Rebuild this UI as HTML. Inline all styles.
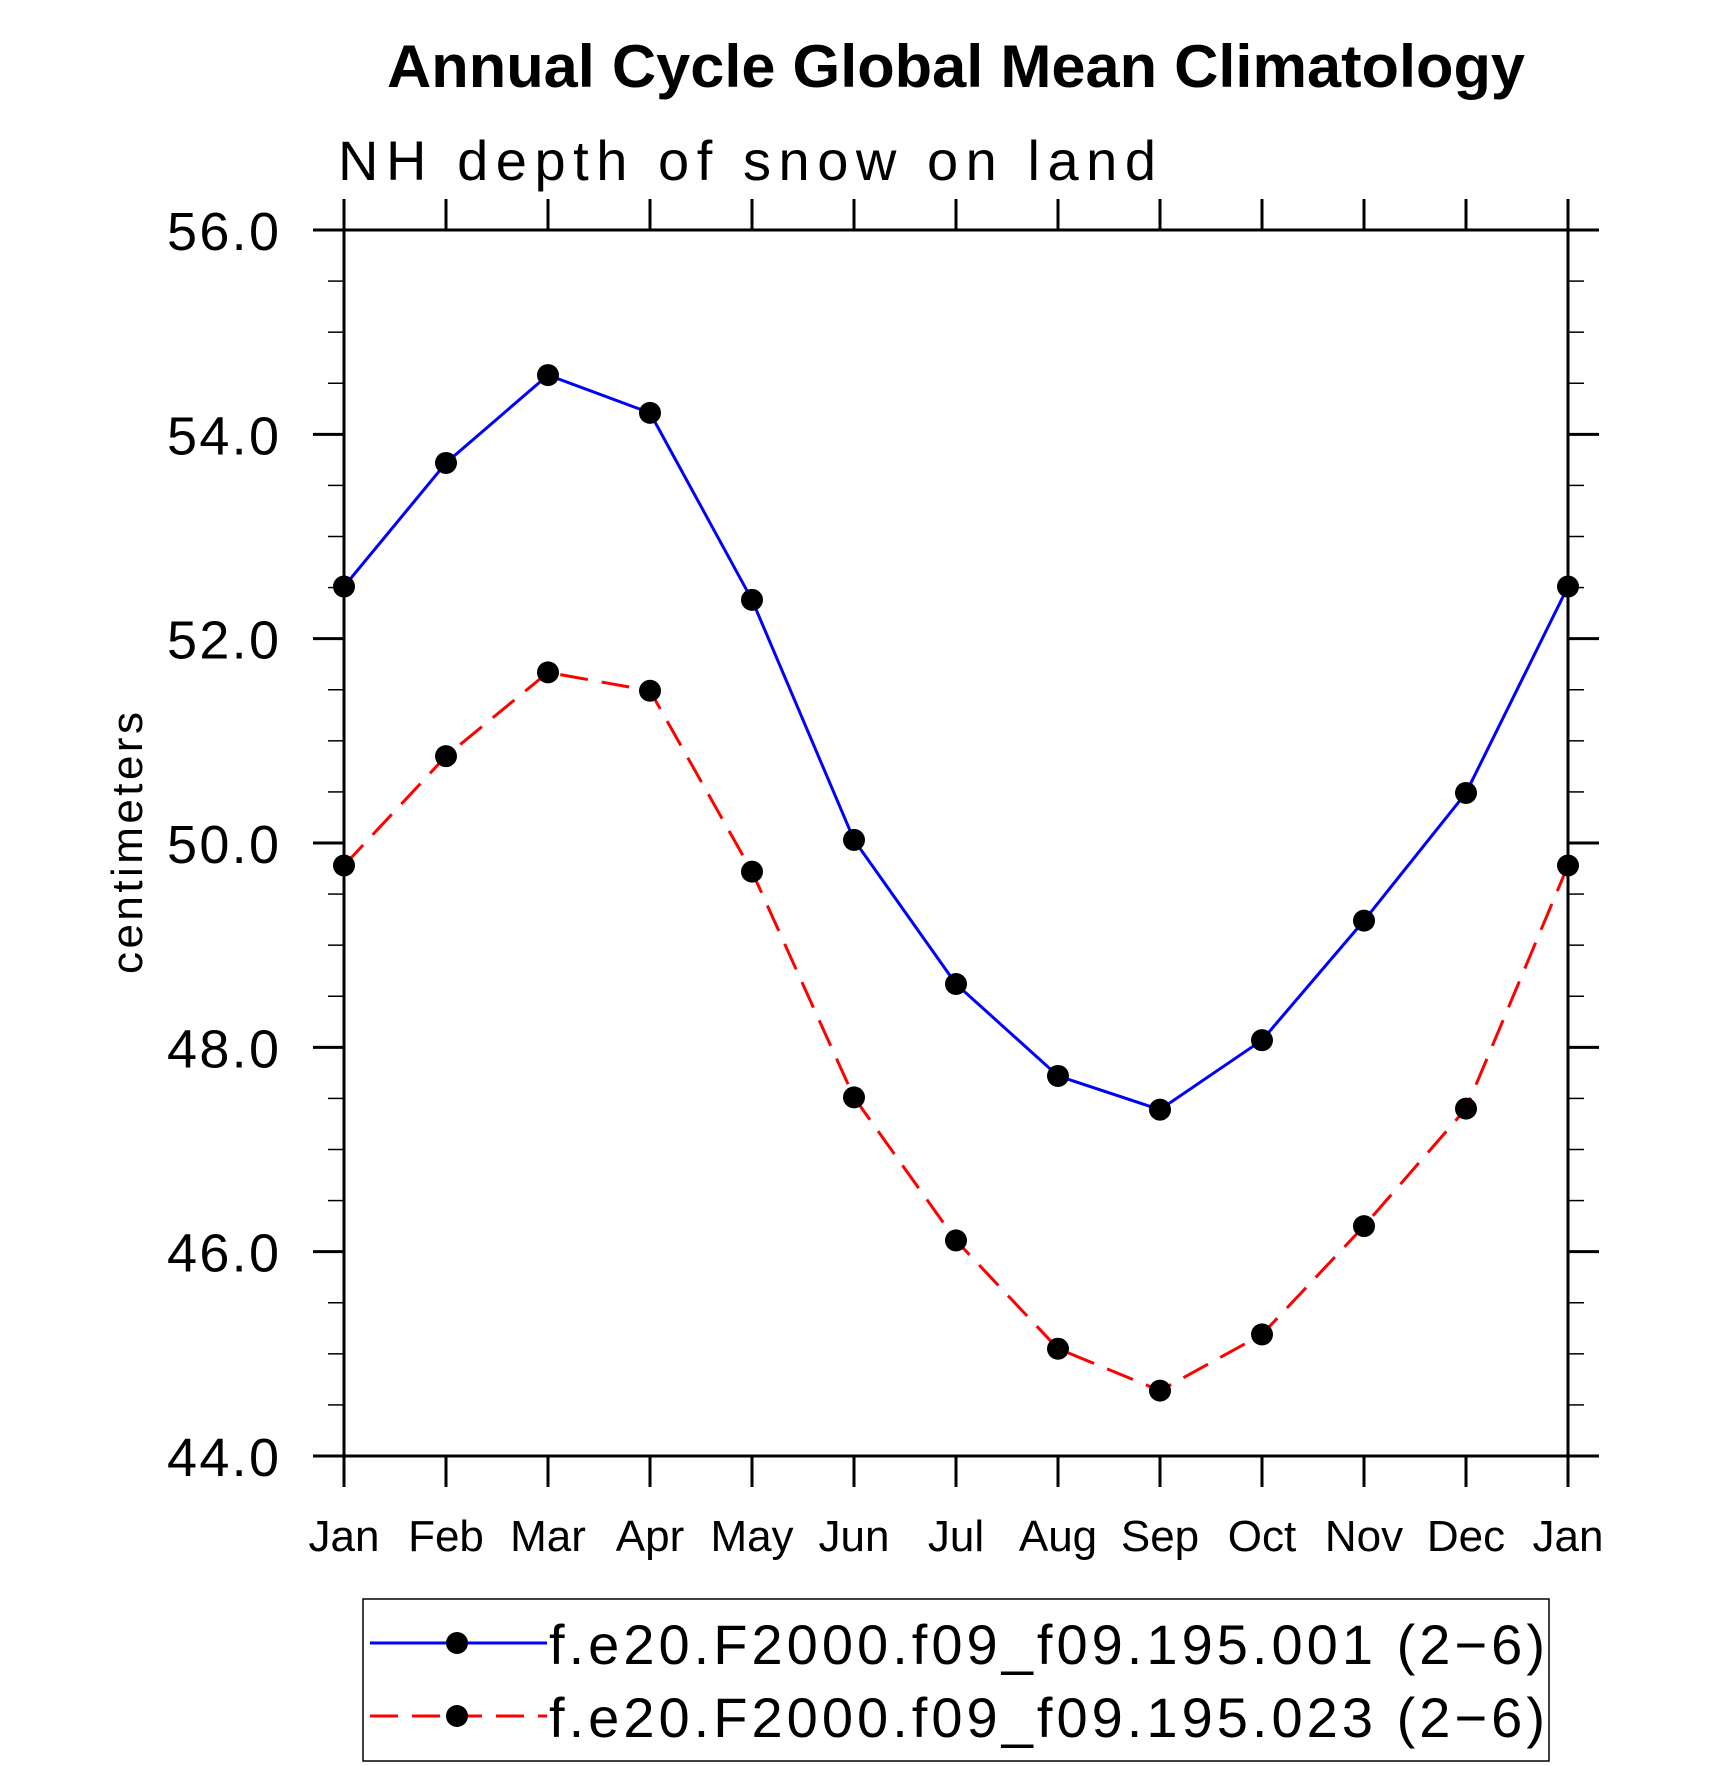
<!DOCTYPE html>
<html><head><meta charset="utf-8"><style>
html,body{margin:0;padding:0;background:#fff}
svg{display:block}
text{font-family:"Liberation Sans","DejaVu Sans",sans-serif}
</style></head><body>
<svg id="chart" width="1710" height="1767" viewBox="0 0 1710 1767" xmlns="http://www.w3.org/2000/svg">
<text x="387" y="87" font-size="60" font-weight="bold" textLength="1138" lengthAdjust="spacingAndGlyphs">Annual Cycle Global Mean Climatology</text>
<text x="338" y="180" font-size="56" textLength="818" lengthAdjust="spacing">NH depth of snow on land</text>
<text transform="translate(142,843) rotate(-90)" text-anchor="middle" font-size="44" textLength="262" lengthAdjust="spacing">centimeters</text>
<g id="axes"></g>
<g id="series"></g>
<g id="legend">
<rect x="363" y="1599" width="1186" height="162" fill="none" stroke="#000" stroke-width="1.5"/>
<g>
<line x1="370" y1="1643" x2="547" y2="1643" stroke="#0000ff" stroke-width="3"/>
<circle cx="457" cy="1643" r="11" fill="#000"/>
<text x="549" y="1664" font-size="56" textLength="996" lengthAdjust="spacing">f.e20.F2000.f09_f09.195.001 (2−6)</text>
</g>
<g>
<line x1="370" y1="1716" x2="547" y2="1716" stroke="#ff0000" stroke-width="3" stroke-dasharray="28,14"/>
<circle cx="457" cy="1716" r="11" fill="#000"/>
<text x="549" y="1737" font-size="56" textLength="996" lengthAdjust="spacing">f.e20.F2000.f09_f09.195.023 (2−6)</text>
</g>
</g>
</svg>
<script>
const months = ["Jan","Feb","Mar","Apr","May","Jun","Jul","Aug","Sep","Oct","Nov","Dec","Jan"];
const series001 = [52.51,53.72,54.58,54.21,52.38,50.03,48.62,47.72,47.39,48.07,49.24,50.49,52.51];
const series023 = [49.78,50.85,51.67,51.49,49.72,47.51,46.11,45.05,44.64,45.19,46.25,47.40,49.78];
const yTicks = [44,46,48,50,52,54,56];
const yTickLabels = ["44.0","46.0","48.0","50.0","52.0","54.0","56.0"];

const NS="http://www.w3.org/2000/svg";
const L=344,R=1568,T=230,B=1456,ymin=44,ymax=56;
const xs=i=>L+(R-L)*i/(months.length-1);
const ys=v=>B-(B-T)*(v-ymin)/(ymax-ymin);
function mk(tag,attrs,parent){const e=document.createElementNS(NS,tag);for(const k in attrs)e.setAttribute(k,attrs[k]);parent.appendChild(e);return e;}
const axes=document.getElementById('axes');
const frame=mk('rect',{x:L,y:T,width:R-L,height:B-T,fill:'none',stroke:'#000','stroke-width':3},axes);


months.forEach((m,i)=>{
  const x=xs(i);
  mk('line',{x1:x,y1:B,x2:x,y2:B+31,stroke:'#000','stroke-width':3},axes);
  mk('line',{x1:x,y1:T,x2:x,y2:T-31,stroke:'#000','stroke-width':3},axes);
  const t=mk('text',{x:x,y:1551,'text-anchor':'middle','font-size':44},axes);
  t.textContent=m;
  
  
});
for(let v=ymin;v<=ymax+1e-9;v+=0.5){
  const y=ys(v);const major=Math.abs(v-Math.round(v/2)*2)<1e-9;const len=major?31:16;
  mk('line',{x1:L,y1:y,x2:L-len,y2:y,stroke:'#000','stroke-width':major?3:1.5},axes);
  mk('line',{x1:R,y1:y,x2:R+len,y2:y,stroke:'#000','stroke-width':major?3:1.5},axes);
}
yTicks.forEach((v,i)=>{
  const t=mk('text',{x:279,y:ys(v)+20,'text-anchor':'end','font-size':54,textLength:112,lengthAdjust:'spacing'},axes);
  t.textContent=yTickLabels[i];
  
  
});
const sg=document.getElementById('series');
function draw(vals,color,dash,name){
  const g=mk('g',{},sg);
  
  
  const pts=vals.map((v,i)=>xs(i)+','+ys(v)).join(' ');
  const a={points:pts,fill:'none',stroke:color,'stroke-width':3};
  if(dash)a['stroke-dasharray']=dash;
  mk('polyline',a,g);
  vals.forEach((v,i)=>{
    const c=mk('circle',{cx:xs(i),cy:ys(v),r:11,fill:'#000'},g);
    
    
  });
}
draw(series001,'#0000ff',null,'series-195-001');
draw(series023,'#ff0000','28,14','series-195-023');
</script>
</body></html>
